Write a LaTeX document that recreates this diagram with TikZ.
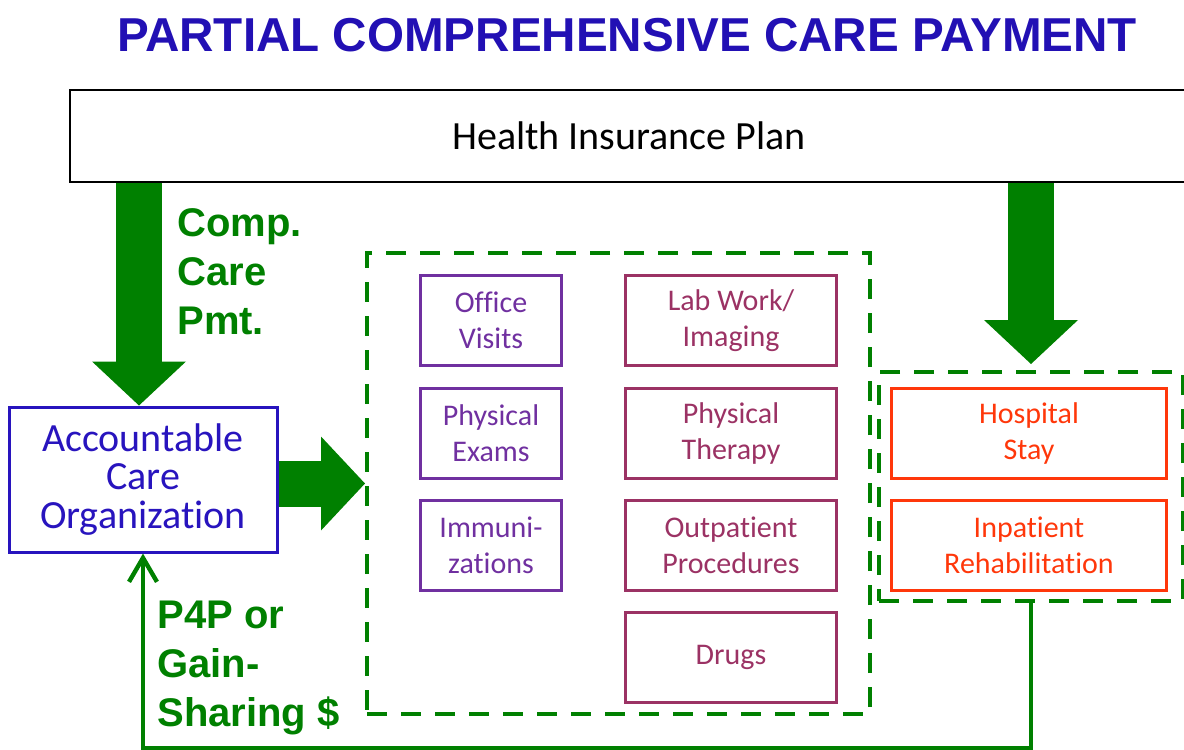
\documentclass[tikz,border=0pt]{standalone}
\usepackage{fontspec}
\setmainfont{Carlito}[Ligatures=NoCommon]
\newfontfamily\arialfont{Liberation Sans}
\usetikzlibrary{arrows.meta}

\definecolor{titleblue}{RGB}{34,16,180}
\definecolor{acoblue}{RGB}{40,20,190}
\definecolor{paygreen}{RGB}{0,128,0}
\definecolor{docpurple}{RGB}{112,48,160}
\definecolor{svcmaroon}{RGB}{155,50,100}
\definecolor{hospred}{RGB}{255,55,10}

\tikzstyle{smallbox} = [draw, line width=1.5pt, minimum height=45pt, align=center, inner sep=0pt, font=\fontsize{15}{18}\selectfont]
\tikzstyle{docbox} = [smallbox, draw=docpurple, text=docpurple, minimum width=70.5pt]
\tikzstyle{labbox} = [smallbox, draw=svcmaroon, text=svcmaroon, minimum width=105.5pt]
\tikzstyle{hospbox} = [smallbox, draw=hospred, text=hospred, minimum width=137.5pt]
\tikzstyle{group} = [draw=paygreen, line width=2pt, dash pattern=on 10pt off 7pt, inner sep=0pt]
\tikzstyle{bigarrow} = [paygreen, line width=23pt, -{Triangle[length=22pt,width=47pt,line width=0pt]}]
\tikzstyle{paylabel} = [paygreen, font=\arialfont\bfseries\fontsize{20}{24.5}\selectfont, align=left, inner sep=0pt, anchor=north west]

\begin{document}
\begin{tikzpicture}[x=0.5pt,y=-0.5pt]
	\useasboundingbox (0,0) rectangle (1184,750);
	\node[titleblue, font=\arialfont\bfseries\fontsize{23.8}{28}\selectfont, anchor=base] (title) at (627,51) {PARTIAL COMPREHENSIVE CARE PAYMENT};
	\node[draw, line width=1.25pt, minimum width=559pt, minimum height=46pt, font=\fontsize{20}{24}\selectfont] (hip) at (629,136) {Health Insurance Plan};
	\node[draw=acoblue, text=acoblue, line width=1.5pt, minimum width=134pt, minimum height=72.5pt, align=center, inner sep=0pt, font=\fontsize{20}{19.3}\selectfont] (aco) at (143,479.5) {Accountable\\Care\\Organization};
	
	\node[group, minimum width=251.5pt, minimum height=230.5pt] (svc) at (618.5,483.5) {};
	\node[group, minimum width=152pt, minimum height=114.5pt] (inpt) at (1031,486.5) {};
	
	\node[docbox] (d1) at (491,320.5) {Office\\Visits};
	\node[docbox] (d2) at (491,433.5) {Physical\\Exams};
	\node[docbox] (d3) at (491,545.5) {Immuni-\\zations};
	
	\node[labbox] (s1) at (731,320.5) {Lab Work/\\Imaging};
	\node[labbox] (s2) at (731,433.5) {Physical\\Therapy};
	\node[labbox] (s3) at (731,545.5) {Outpatient\\Procedures};
	\node[labbox] (s4) at (731,657.5) {Drugs};
	
	\node[hospbox] (h1) at (1029,433) {Hospital\\Stay};
	\node[hospbox] (h2) at (1029,545.5) {Inpatient\\Rehabilitation};
	
	\draw[bigarrow] ([xshift=-2pt]aco.north |- hip.south) -- ([xshift=-2pt]aco.north);
	\draw[bigarrow] (inpt.north |- hip.south) -- ([yshift=3pt]inpt.north);
	\draw[bigarrow] (svc.west -| aco.east) -- (svc.west);
	
	\draw[paygreen, line width=2.2pt, -{Straight Barb[length=12pt,width=14pt]}] (inpt.south) -- ++(0,145) -| (aco.south);
	
	\node[paylabel] (pmt) at (177,208) {Comp.\\Care\\Pmt.};
	\node[paylabel] (p4p) at (157,601) {P4P or\\Gain-\\Sharing \$};
\end{tikzpicture}
\end{document}
